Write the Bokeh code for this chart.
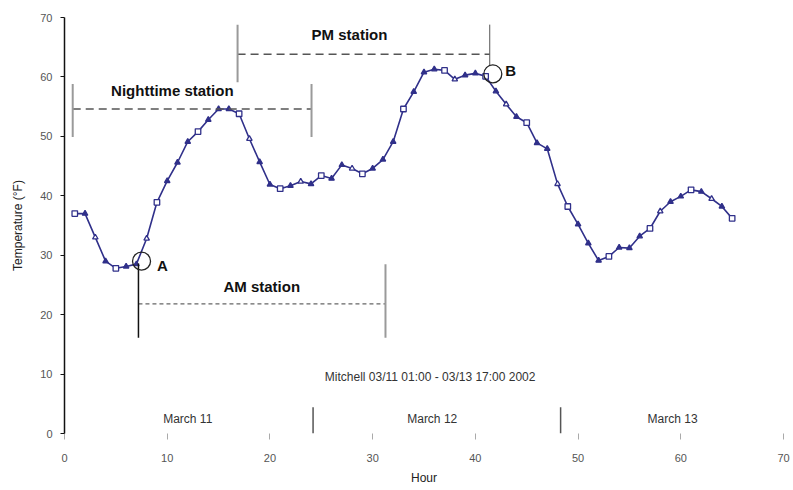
from bokeh.plotting import figure
from bokeh.models import ColumnDataSource, Range1d, FixedTicker
from bokeh.core.properties import value
from bokeh.embed import file_html
from bokeh.resources import INLINE

# ---- data ----
hours = list(range(1, 66))
temps = [37.0, 37.0, 33.0, 29.0, 27.8, 28.1, 28.5, 32.8, 38.9, 42.5,
         45.6, 49.1, 50.8, 52.8, 54.6, 54.6, 53.8, 49.6, 45.7, 41.9,
         41.2, 41.7, 42.4, 42.0, 43.4, 42.9, 45.2, 44.6, 43.7, 44.6,
         46.1, 49.1, 54.6, 57.5, 60.8, 61.3, 61.1, 59.6, 60.3, 60.6,
         60.1, 57.6, 55.4, 53.3, 52.3, 48.9, 47.9, 42.0, 38.2, 35.2,
         32.0, 29.1, 29.8, 31.3, 31.2, 33.2, 34.5, 37.4, 39.0, 39.9,
         41.0, 40.7, 39.5, 38.2, 36.2]
x_ticks = [0, 10, 20, 30, 40, 50, 60, 70]
y_ticks = [0, 10, 20, 30, 40, 50, 60, 70]
title_text = "Mitchell 03/11 01:00 - 03/13 17:00 2002"
day_labels = ["March 11", "March 12", "March 13"]
day_label_x = [12.0, 35.8, 59.2]
day_breaks = [24.2, 48.3]

FONT = "Liberation Sans"
NAVY = "#30308a"

p = figure(width=793, height=490, output_backend="svg", toolbar_location=None,
           x_range=Range1d(0, 70), y_range=Range1d(0, 70),
           min_border_left=64, min_border_right=10, min_border_top=17,
           min_border_bottom=57)
p.outline_line_color = None
p.grid.visible = False
p.background_fill_color = "white"

# axes
p.xaxis.ticker = FixedTicker(ticks=x_ticks)
p.yaxis.ticker = FixedTicker(ticks=y_ticks)
p.xaxis.axis_label = "Hour"
p.yaxis.axis_label = "Temperature (°F)"
for ax in (p.xaxis[0], p.yaxis[0]):
    ax.axis_label_text_font = FONT
    ax.axis_label_text_font_style = "normal"
    ax.axis_label_text_font_size = "12px"
    ax.axis_label_text_color = "#222222"
    ax.major_label_text_font = FONT
    ax.major_label_text_font_size = "11px"
    ax.major_label_text_color = "#555555"
    ax.minor_tick_line_color = None
    ax.major_tick_in = 0
p.xaxis.axis_line_color = None
p.xaxis.major_tick_line_color = "#aaaaaa"
p.xaxis.major_tick_out = 6
p.xaxis.major_label_standoff = 14
p.xaxis.axis_label_standoff = 6
p.yaxis.axis_line_color = "#111111"
p.yaxis.axis_line_width = 1.5
p.yaxis.major_tick_line_color = "#111111"
p.yaxis.major_tick_out = 4
p.yaxis.major_label_standoff = 8
p.yaxis.axis_label_standoff = 12

# series
src = ColumnDataSource(dict(
    x=hours, y=temps,
    m=["square" if i % 4 == 0 else "triangle" for i in range(len(hours))],
    f=["white" if i % 4 == 0 or i % 5 == 2 else NAVY for i in range(len(hours))]))
p.line("x", "y", source=src, line_color=NAVY, line_width=1.6)
p.scatter("x", "y", source=src, marker="m", size=5.5, fill_color="f",
          line_color=NAVY, line_width=1.3)

# ---- annotations ----
# Nighttime station
p.segment(x0=[0.8], y0=[54.6], x1=[24.05], y1=[54.6], line_color="#555555",
          line_width=1.5, line_dash="8 5")
p.segment(x0=[0.8, 24.05], y0=[58.8, 58.8], x1=[0.8, 24.05], y1=[49.9, 49.9],
          line_color="#9a9a9a", line_width=2)
# PM station
p.segment(x0=[16.85], y0=[63.8], x1=[41.4], y1=[63.8], line_color="#555555",
          line_width=1.5, line_dash="8 5")
p.segment(x0=[16.85, 41.4], y0=[68.8, 68.8], x1=[16.85, 41.4], y1=[59.1, 61.8],
          line_color=["#9a9a9a", "#555555"], line_width=[2, 1])
# AM station
p.segment(x0=[7.2], y0=[21.8], x1=[31.25], y1=[21.8], line_color="#666666",
          line_width=1.2, line_dash="4 3")
p.segment(x0=[7.2, 31.25], y0=[28.6, 28.5], x1=[7.2, 31.25], y1=[16.1, 16.1],
          line_color=["#111111", "#9a9a9a"], line_width=[1.5, 2])

# circles A, B
p.scatter(x=[7.5, 41.7], y=[29.0, 60.5], marker="circle", size=18,
          fill_color=None, line_color="#222222", line_width=1.3)
p.text(x=[9.0, 42.9], y=[28.3, 61.0], text=["A", "B"], text_font=value(FONT),
       text_font_size="15px", text_font_style="bold", text_align="left",
       text_baseline="middle", text_color="#111111")

# station labels
p.text(x=[10.5, 27.75, 19.2], y=[57.8, 67.2, 24.8],
       text=["Nighttime station", "PM station", "AM station"],
       text_font=value(FONT), text_font_size="15px", text_font_style="bold",
       text_align="center", text_baseline="middle", text_color="#111111")

# title inside plot
p.text(x=[35.6], y=[9.55], text=[title_text], text_font=value(FONT),
       text_font_size="12px", text_align="center", text_baseline="middle",
       text_color="#333333")

# day separators & labels
p.segment(x0=day_breaks, y0=[0, 0], x1=day_breaks, y1=[4.4, 4.4],
          line_color="#555555", line_width=1.5)
p.text(x=day_label_x, y=[2.5] * 3, text=day_labels, text_font=value(FONT),
       text_font_size="12px", text_align="center", text_baseline="middle",
       text_color="#333333")

open("out.html", "w").write(file_html(p, INLINE))
